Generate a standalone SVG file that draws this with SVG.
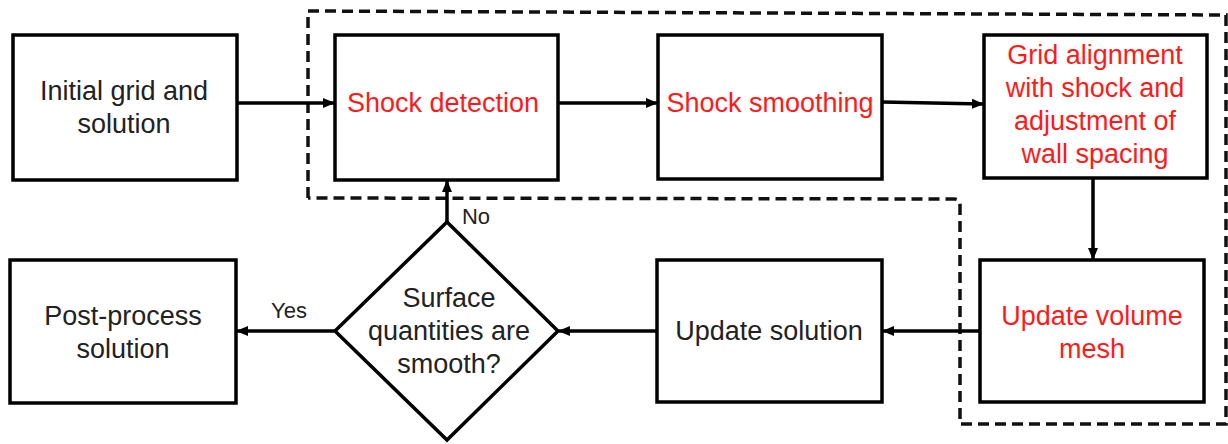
<svg xmlns="http://www.w3.org/2000/svg" width="1228" height="444" viewBox="0 0 1228 444">
<defs>
<style>
.box{fill:#fff;stroke:#000;stroke-width:3.5}
.t{font-family:"Liberation Sans",Arial,sans-serif;font-size:27px;fill:#222;text-anchor:middle}
.r{fill:#ff1a1a}
.lbl{font-family:"Liberation Sans",Arial,sans-serif;font-size:22px;fill:#222;text-anchor:middle}
.c{fill:none;stroke:#000;stroke-width:3.5}
.dash{fill:none;stroke:#111;stroke-width:3.5;stroke-dasharray:11 6}
</style>
<marker id="ah" markerWidth="12" markerHeight="12" refX="11" refY="6" orient="auto" markerUnits="userSpaceOnUse">
<path d="M0,1 L12,6 L0,11 Z" fill="#000"/>
</marker>
</defs>
<rect width="1228" height="444" fill="#fff"/>
<path class="dash" d="M308,198 L308,11 L1226,15 L1226,424 L960,424 L960,205 Q960,199 954,199 L308,198"/>
<g id="connectors">
<line class="c" x1="237" y1="103" x2="334" y2="103" marker-end="url(#ah)"/>
<line class="c" x1="558" y1="103" x2="657" y2="103" marker-end="url(#ah)"/>
<line class="c" x1="882" y1="102" x2="983" y2="104" marker-end="url(#ah)"/>
<line class="c" x1="1093" y1="178" x2="1093" y2="259" marker-end="url(#ah)"/>
<line class="c" x1="980" y1="331" x2="883" y2="331" marker-end="url(#ah)"/>
<line class="c" x1="657" y1="331" x2="559" y2="331" marker-end="url(#ah)"/>
<line class="c" x1="335" y1="331" x2="237" y2="331" marker-end="url(#ah)"/>
<line class="c" x1="447" y1="222" x2="447" y2="181" marker-end="url(#ah)"/>
<text class="lbl" x="289" y="318">Yes</text>
<text class="lbl" x="476" y="224">No</text>
</g>
<g id="initial">
<rect class="box" x="13" y="35" width="224" height="145"/>
<text class="t" x="124" y="100">Initial grid and</text>
<text class="t" x="124" y="133">solution</text>
</g>
<g id="detect">
<rect class="box" x="335" y="35" width="223" height="145"/>
<text class="t r" x="443" y="112">Shock detection</text>
</g>
<g id="smooth">
<rect class="box" x="658" y="35" width="224" height="144"/>
<text class="t r" x="770" y="112">Shock smoothing</text>
</g>
<g id="align">
<rect class="box" x="984" y="35" width="223" height="143"/>
<text class="t r" x="1095" y="64">Grid alignment</text>
<text class="t r" x="1095" y="97">with shock and</text>
<text class="t r" x="1095" y="130">adjustment of</text>
<text class="t r" x="1095" y="163">wall spacing</text>
</g>
<g id="volume">
<rect class="box" x="980" y="260" width="224" height="142"/>
<text class="t r" x="1092" y="325">Update volume</text>
<text class="t r" x="1092" y="358">mesh</text>
</g>
<g id="updsol">
<rect class="box" x="657" y="260" width="225" height="142"/>
<text class="t" x="769" y="340">Update solution</text>
</g>
<g id="decision">
<polygon class="box" points="447,222 558,331 447,440 335,331"/>
<text class="t" x="449" y="307">Surface</text>
<text class="t" x="449" y="340">quantities are</text>
<text class="t" x="449" y="373">smooth?</text>
</g>
<g id="post">
<rect class="box" x="10" y="260" width="226" height="143"/>
<text class="t" x="123" y="325">Post-process</text>
<text class="t" x="123" y="358">solution</text>
</g>
</svg>
